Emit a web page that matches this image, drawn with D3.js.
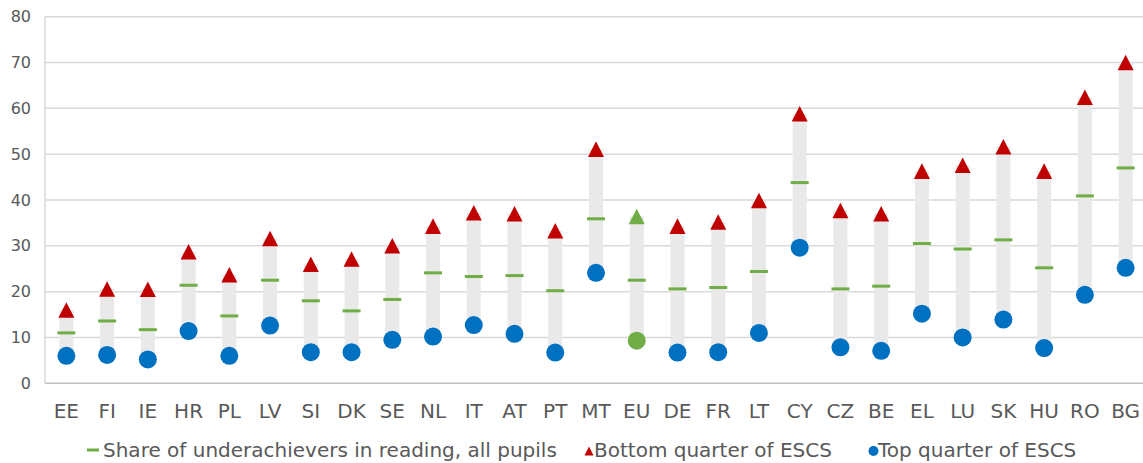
<!DOCTYPE html>
<html><head><meta charset="utf-8">
<script src="https://cdn.jsdelivr.net/npm/d3@7"></script>
<style>body{margin:0;background:#fff;} text{font-family:"DejaVu Sans",Verdana,sans-serif;fill:#595959;}</style>
</head><body><svg id="c" width="1143" height="463"></svg>
<script>
const categories = ["EE","FI","IE","HR","PL","LV","SI","DK","SE","NL","IT","AT","PT","MT","EU","DE","FR","LT","CY","CZ","BE","EL","LU","SK","HU","RO","BG"];
const allPupils = [11.0,13.6,11.7,21.4,14.7,22.5,18.0,15.8,18.3,24.1,23.3,23.5,20.2,35.9,22.5,20.6,20.9,24.4,43.8,20.6,21.2,30.5,29.3,31.3,25.2,40.9,47.0];
const bottomQuarter = [16.0,20.6,20.5,28.7,23.7,31.6,26.0,27.1,30.0,34.3,37.2,37.0,33.3,51.1,36.4,34.3,35.2,39.9,58.8,37.7,37.0,46.3,47.6,51.6,46.3,62.4,70.0];
const topQuarter = [6.0,6.2,5.2,11.4,6.0,12.6,6.8,6.8,9.5,10.2,12.7,10.8,6.7,24.1,9.3,6.7,6.8,11.0,29.6,7.85,7.1,15.2,10.0,13.9,7.7,19.3,25.2];
const yTicks = [0,10,20,30,40,50,60,70,80];
const legendLabels = ["Share of underachievers in reading, all pupils","Bottom quarter of ESCS","Top quarter of ESCS"];

const svg = d3.select("#c");
const L = 46, R = 1146, T = 16.7, B = 383.3;
const x = d3.scaleBand().domain(categories).range([L, R]).padding(0);
const y = d3.scaleLinear().domain([0, 80]).range([B, T]);

// gridlines
svg.append("g").selectAll("line").data(yTicks).join("line")
  .attr("x1", 45).attr("x2", 1143).attr("y1", d => y(d)).attr("y2", d => y(d))
  .attr("stroke", d => d === 0 ? "#bfbfbf" : "#d9d9d9").attr("stroke-width", 1.5);
svg.append("line").attr("x1", 45).attr("x2", 45).attr("y1", y(80)).attr("y2", y(0))
  .attr("stroke", "#d9d9d9").attr("stroke-width", 1.5);

// y tick labels
svg.append("g").selectAll("text").data(yTicks).join("text")
  .attr("x", 31).attr("y", d => y(d)).attr("dy", "0.35em").attr("text-anchor", "end")
  .attr("font-size", 16).text(d => d);

// x labels
svg.append("g").selectAll("text").data(categories).join("text")
  .attr("x", d => x(d) + x.bandwidth()/2).attr("y", 418).attr("text-anchor", "middle")
  .attr("font-size", 20).text(d => d);

const cx = d => x(d) + x.bandwidth()/2;
const isEU = d => d === "EU";

// range bars
svg.append("g").selectAll("rect").data(categories).join("rect")
  .attr("x", d => cx(d) - 7).attr("width", 14)
  .attr("y", (d,i) => y(bottomQuarter[i])).attr("height", (d,i) => y(topQuarter[i]) - y(bottomQuarter[i]))
  .attr("fill", "#e9e9e9");

// green dashes
svg.append("g").selectAll("rect").data(categories).join("rect")
  .attr("x", d => cx(d) - 9).attr("width", 18)
  .attr("y", (d,i) => y(allPupils[i]) - 1.5).attr("height", 3)
  .attr("fill", "#70ad47");

// triangles
svg.append("g").selectAll("path").data(categories).join("path")
  .attr("d", "M0,-8L8,8L-8,8Z")
  .attr("transform", (d,i) => `translate(${cx(d)},${y(bottomQuarter[i])}) scale(1,0.97)`)
  .attr("fill", d => isEU(d) ? "#70ad47" : "#c00000");

// circles
svg.append("g").selectAll("circle").data(categories).join("circle")
  .attr("cx", cx).attr("cy", (d,i) => y(topQuarter[i])).attr("r", 9)
  .attr("fill", d => isEU(d) ? "#70ad47" : "#0070c0");

// legend
const lg = svg.append("g").attr("font-size", 20);
lg.append("rect").attr("x", 87).attr("y", 448.5).attr("width", 12).attr("height", 3).attr("fill", "#70ad47");
lg.append("text").attr("x", 103).attr("y", 457).text(legendLabels[0]);
lg.append("path").attr("d", "M0,-4.5L4.5,4.5L-4.5,4.5Z").attr("transform", "translate(589,451)").attr("fill", "#c00000");
lg.append("text").attr("x", 594).attr("y", 457).text(legendLabels[1]);
lg.append("circle").attr("cx", 873.5).attr("cy", 451).attr("r", 5).attr("fill", "#0070c0");
lg.append("text").attr("x", 878).attr("y", 457).text(legendLabels[2]);
</script></body></html>
